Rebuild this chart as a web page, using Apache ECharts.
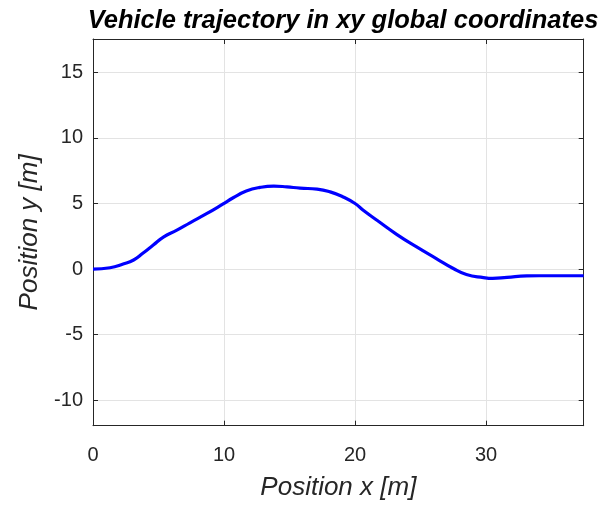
<!DOCTYPE html>
<html>
<head>
<meta charset="utf-8">
<script src="https://cdn.jsdelivr.net/npm/echarts@6/dist/echarts.min.js"></script>
<style>
  html, body { margin: 0; padding: 0; background: #ffffff; }
  #chart { width: 611px; height: 506px; }
</style>
</head>
<body>
<div id="chart"></div>
<script>
// Vehicle path sampled in global coordinates [m]
const posX = [0, 1.3, 2.3, 3.1, 3.8, 4.6, 5.4, 6.4, 7.4, 8.7, 9.9, 10.7, 11.7, 12.75, 13.8, 14.8,
  15.8, 17.1, 18.1, 19.1, 20.0, 20.6, 21.7, 23.2, 24.7, 26.2, 27.5, 28.5, 29.8, 30.5, 31.6, 33.1, 35.0, 37.45];
const posY = [0, 0.1, 0.38, 0.69, 1.2, 1.83, 2.46, 2.97, 3.53, 4.24, 4.95, 5.44, 5.95, 6.23, 6.33, 6.27,
  6.17, 6.1, 5.89, 5.5, 5.0, 4.5, 3.7, 2.63, 1.69, 0.8, 0.04, -0.42, -0.65, -0.71, -0.63, -0.52, -0.51, -0.51];

// Axis limits (equal aspect) and tick values
const xLimits = [0, 37.45];
const yLimits = [-11.95, 17.55];
const xTicks = [0, 10, 20, 30];
const yTicks = [-10, -5, 0, 5, 10, 15];

const titleText = 'Vehicle trajectory in xy global coordinates';
const xName = 'Position x [m]';
const yName = 'Position y [m]';

const FONT = '"Liberation Sans", Arial, Helvetica, sans-serif';
const AX = '#262626';
const GRIDC = '#e3e3e3';

const chart = echarts.init(document.getElementById('chart'), null, { renderer: 'canvas' });

function baseAxis(limits, ticks, extra) {
  return Object.assign({
    type: 'value',
    min: limits[0],
    max: limits[1],
    axisLine: { show: true, onZero: false, lineStyle: { color: AX, width: 1 } },
    axisTick: { show: true, inside: true, length: 5, customValues: ticks, lineStyle: { color: AX } },
    axisLabel: { show: false, customValues: ticks },
    splitLine: { show: false }
  }, extra);
}

const option = {
  backgroundColor: '#ffffff',
  animation: false,
  title: {
    text: titleText,
    left: 338, top: 3, textAlign: 'center',
    textStyle: { fontFamily: FONT, fontSize: 25.5, fontWeight: 'bold', fontStyle: 'italic', color: '#000000' }
  },
  grid: { left: 93, top: 39, width: 490.7, height: 386.7, containLabel: false },
  xAxis: [
    baseAxis(xLimits, xTicks, {
      position: 'bottom',
      name: xName, nameLocation: 'middle', nameGap: 49,
      nameTextStyle: { fontFamily: FONT, fontSize: 26, fontStyle: 'italic', color: AX },
      axisLabel: { show: true, customValues: xTicks, margin: 20, fontFamily: FONT, fontSize: 20, color: AX },
      splitLine: { show: true, lineStyle: { color: GRIDC, width: 1 } }
    }),
    baseAxis(xLimits, xTicks, { position: 'top' })
  ],
  yAxis: [
    baseAxis(yLimits, yTicks, {
      position: 'left',
      name: yName, nameLocation: 'middle', nameGap: 50,
      nameTextStyle: { fontFamily: FONT, fontSize: 26, fontStyle: 'italic', color: AX },
      axisLabel: { show: true, customValues: yTicks, margin: 10, fontFamily: FONT, fontSize: 20, color: AX },
      splitLine: { show: true, lineStyle: { color: GRIDC, width: 1 } }
    }),
    baseAxis(yLimits, yTicks, { position: 'right' })
  ],
  series: [{
    type: 'line',
    xAxisIndex: 0, yAxisIndex: 0,
    data: posX.map((x, i) => [x, posY[i]]),
    showSymbol: false,
    smooth: 0.5,
    clip: true,
    lineStyle: { color: '#0000ff', width: 3.2 },
    itemStyle: { color: '#0000ff' }
  }]
};

chart.setOption(option);
</script>
</body>
</html>
